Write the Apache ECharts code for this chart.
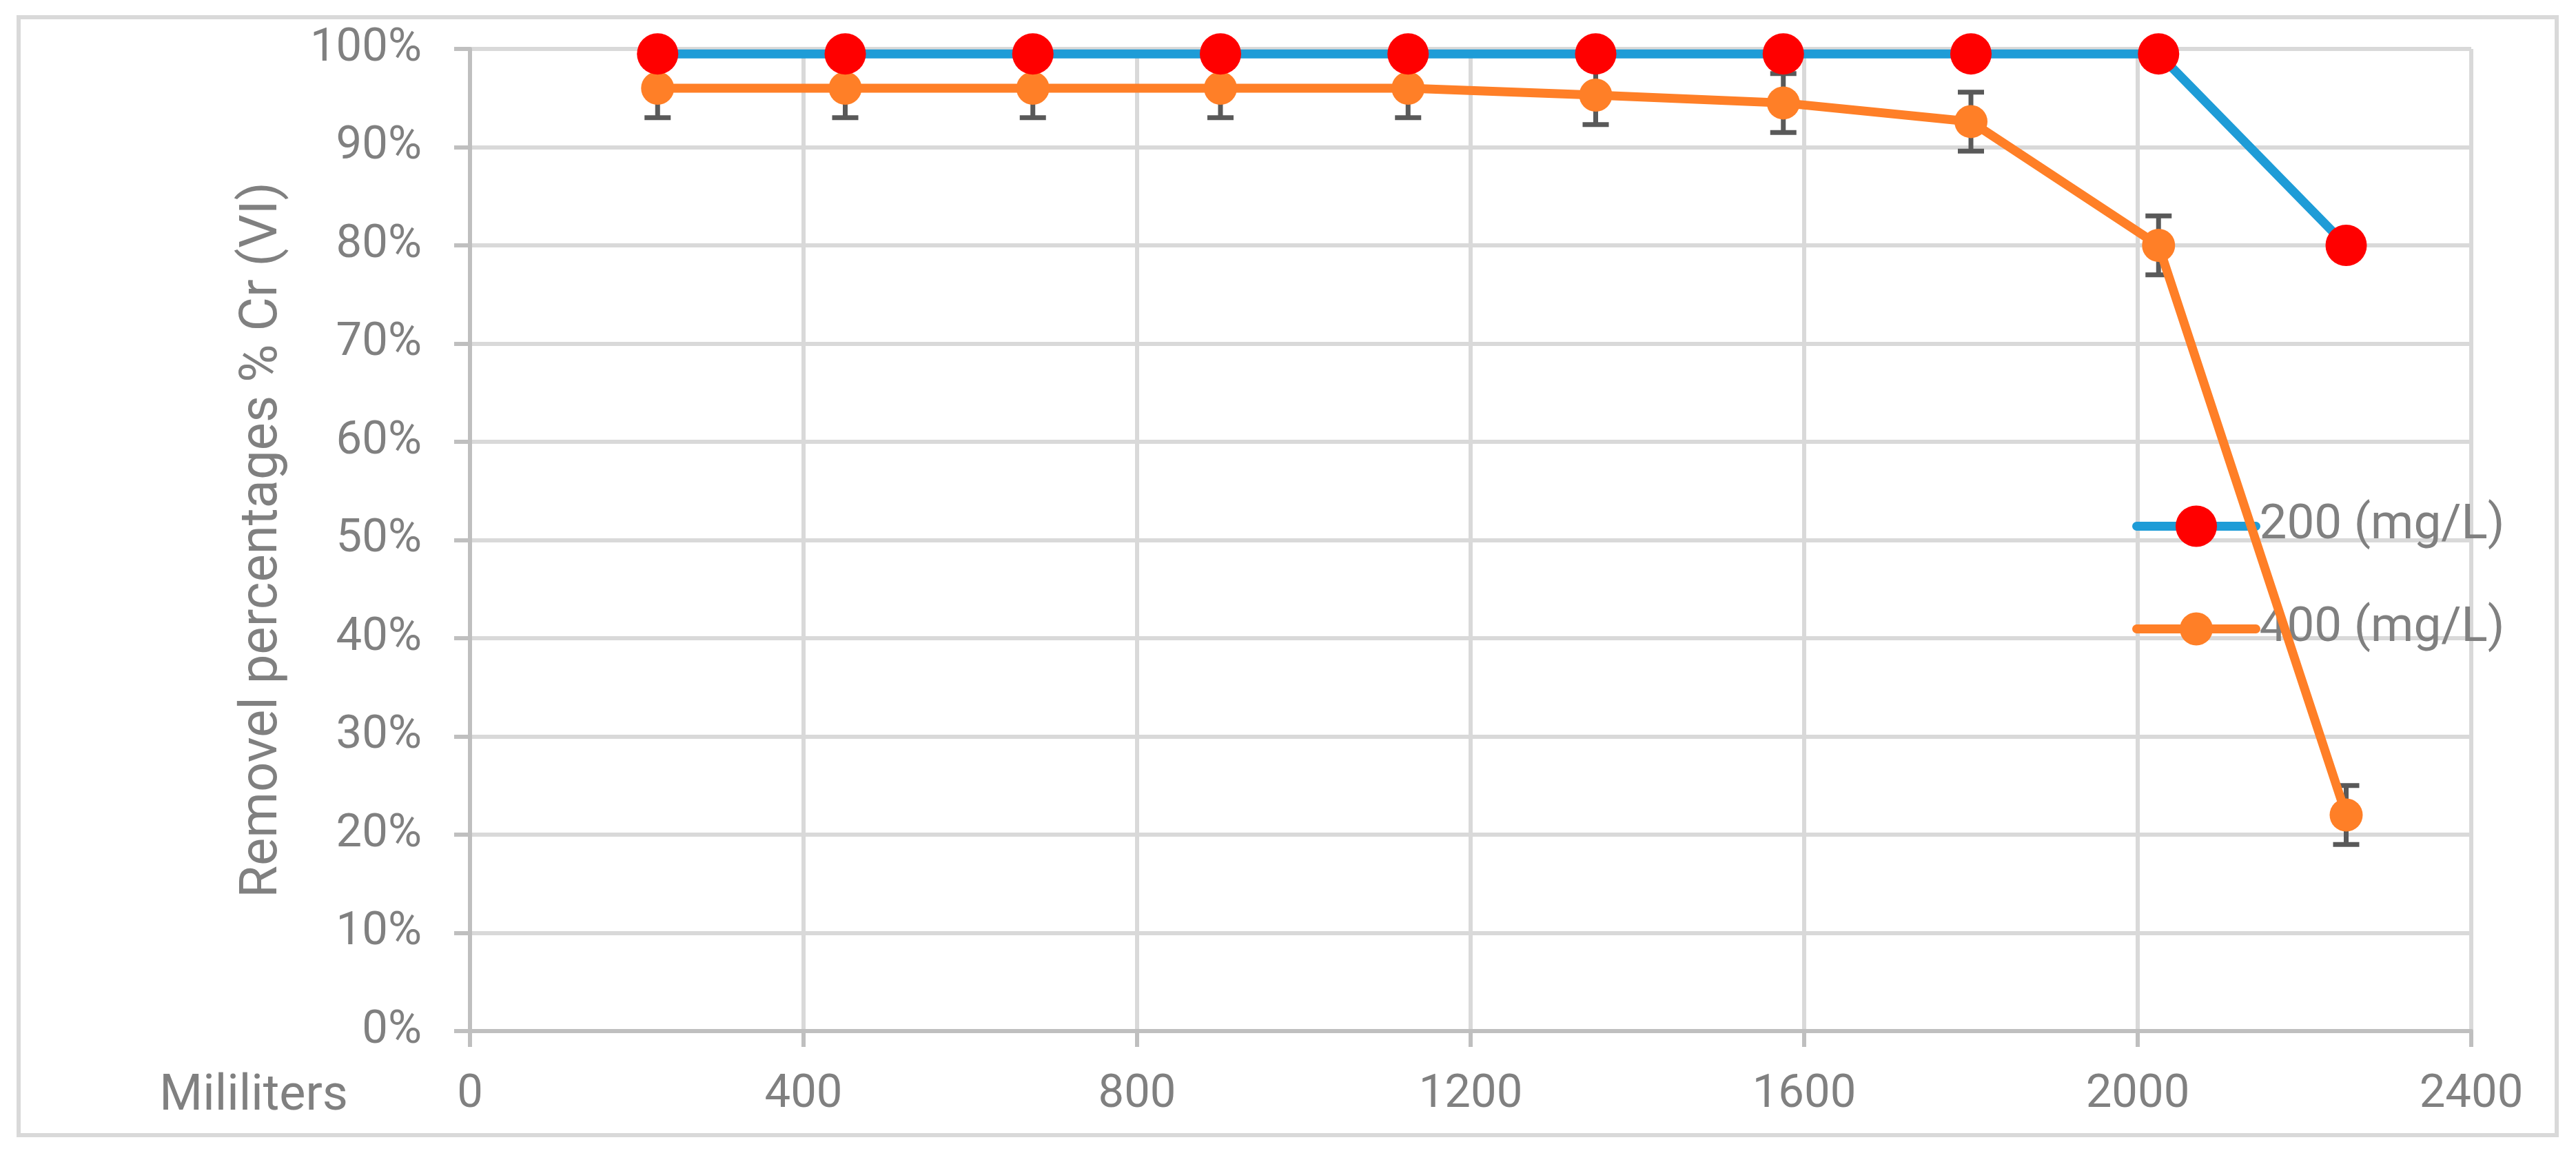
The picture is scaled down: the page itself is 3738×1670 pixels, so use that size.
<!DOCTYPE html>
<html><head><meta charset="utf-8">
<script src="https://cdn.jsdelivr.net/npm/echarts@6/dist/echarts.min.js"></script>
<style>html,body{margin:0;padding:0;background:#fff}#c{width:3738px;height:1670px}</style>
</head><body><div id="c"></div>
<script>
const xValues = [225, 450, 675, 900, 1125, 1350, 1575, 1800, 2025, 2250];
const removal200 = [99.5, 99.5, 99.5, 99.5, 99.5, 99.5, 99.5, 99.5, 99.5, 80];
const removal400 = [96, 96, 96, 96, 96, 95.3, 94.5, 92.6, 80, 22];
const error400 = [3, 3, 3, 3, 3, 3, 3, 3, 3, 3];
const seriesNames = ['200 (mg/L)', '400 (mg/L)'];
const yAxisTitle = 'Removel percentages % Cr (VI)';
const xAxisTitle = 'Mililiters';

const FONT = "Roboto, 'Liberation Sans', sans-serif";
const GRAY = '#808080';
const FS = 67;

const s200 = xValues.map((x, i) => [x, removal200[i]]);
const s400 = xValues.map((x, i) => [x, removal400[i]]);
const err400 = xValues.map((x, i) => [x, removal400[i] - error400[i], removal400[i] + error400[i]]);

const chart = echarts.init(document.getElementById('c'), null, {renderer: 'canvas'});
chart.setOption({
  animation: false,
  backgroundColor: '#fff',
  grid: {left: 682, top: 71, right: 152, bottom: 174, containLabel: false},
  graphic: [
    {type: 'rect', shape: {x: 27, y: 25, width: 3683, height: 1622}, style: {fill: 'none', stroke: '#d9d9d9', lineWidth: 6}, z: -10},
    {type: 'text', x: 505, y: 1592, style: {text: xAxisTitle, fontSize: 72, fontFamily: FONT, fill: GRAY, align: 'right', verticalAlign: 'middle'}}
  ],
  legend: [
    {data: [seriesNames[0]], orient: 'vertical', left: 3094, top: 728, padding: 0, itemWidth: 173, itemHeight: 75, itemGap: 0,
     lineStyle: {width: 13, cap: 'round'},
     textStyle: {fontSize: 71, color: GRAY, fontFamily: FONT}},
    {data: [seriesNames[1]], orient: 'vertical', left: 3094, top: 877, padding: 0, itemWidth: 173, itemHeight: 60, itemGap: 0,
     lineStyle: {width: 13, cap: 'round'},
     textStyle: {fontSize: 71, color: GRAY, fontFamily: FONT}}
  ],
  xAxis: {
    type: 'value', min: 0, max: 2400, interval: 400,
    axisLine: {show: true, lineStyle: {color: '#bfbfbf', width: 6}},
    axisTick: {show: true, length: 23, lineStyle: {color: '#bfbfbf', width: 6}},
    axisLabel: {fontSize: FS, color: GRAY, fontFamily: FONT, margin: 60, formatter: function (v) { return String(v); }},
    splitLine: {show: true, lineStyle: {color: '#d9d9d9', width: 6}}
  },
  yAxis: {
    type: 'value', min: 0, max: 100, interval: 10,
    name: yAxisTitle, nameLocation: 'middle', nameRotate: 90, nameGap: 262,
    nameTextStyle: {fontSize: 76, color: GRAY, fontFamily: FONT},
    axisLine: {show: true, lineStyle: {color: '#bfbfbf', width: 6}},
    axisTick: {show: true, length: 23, lineStyle: {color: '#bfbfbf', width: 6}},
    axisLabel: {fontSize: FS, color: GRAY, fontFamily: FONT, margin: 70, formatter: '{value}%'},
    splitLine: {show: true, lineStyle: {color: '#d9d9d9', width: 6}}
  },
  series: [
    {
      type: 'custom', name: 'err400', z: 3, silent: true,
      data: err400,
      encode: {x: 0, y: [1, 2]},
      renderItem: function (params, api) {
        const x = api.value(0);
        const lo = api.coord([x, api.value(1)]);
        const hi = api.coord([x, api.value(2)]);
        const hw = 19;
        const st = {stroke: '#595959', lineWidth: 7, fill: 'none'};
        return {type: 'group', children: [
          {type: 'line', shape: {x1: lo[0], y1: lo[1], x2: hi[0], y2: hi[1]}, style: st},
          {type: 'line', shape: {x1: lo[0] - hw, y1: lo[1], x2: lo[0] + hw, y2: lo[1]}, style: st},
          {type: 'line', shape: {x1: hi[0] - hw, y1: hi[1], x2: hi[0] + hw, y2: hi[1]}, style: st}
        ]};
      }
    },
    {
      type: 'line', name: seriesNames[1], data: s400, z: 4,
      symbol: 'circle', symbolSize: 48,
      lineStyle: {color: '#ff7f27', width: 13, cap: 'round', join: 'round'},
      itemStyle: {color: '#ff7f27'}
    },
    {
      type: 'line', name: seriesNames[0], data: s200, z: 5,
      symbol: 'circle', symbolSize: 60,
      lineStyle: {color: '#1e9cd7', width: 13, cap: 'round', join: 'round'},
      itemStyle: {color: '#ff0000'}
    }
  ]
});
</script></body></html>
